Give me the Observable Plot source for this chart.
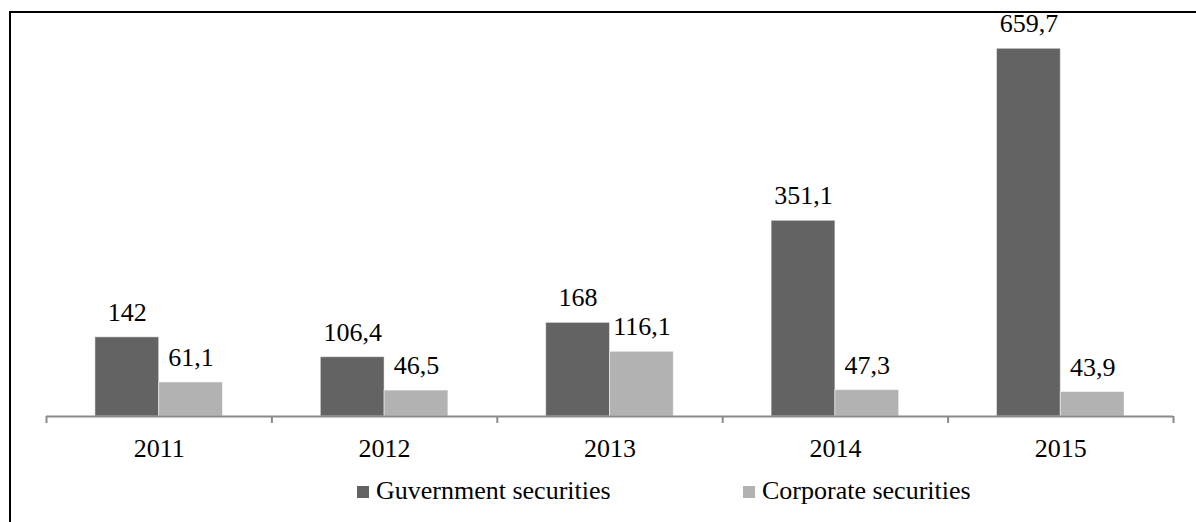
<!DOCTYPE html>
<html>
<head>
<meta charset="utf-8">
<script src="https://cdn.jsdelivr.net/npm/d3@7"></script>
<script src="https://cdn.jsdelivr.net/npm/@observablehq/plot@0.6"></script>
<style>
  html, body { margin: 0; padding: 0; background: #fff; }
  body { width: 1196px; height: 522px; position: relative; overflow: hidden;
         font-family: "Liberation Serif", "Times New Roman", Tinos, "DejaVu Serif", "Noto Serif", FreeSerif, serif; }
  #frame { position: absolute; left: 9px; top: 11px; width: 1400px; height: 800px;
           border-top: 2px solid #000; border-left: 2px solid #000; pointer-events: none; }
  #chart { position: absolute; left: 0; top: 0; }
  #chart svg text { font-family: "Liberation Serif", "Times New Roman", Tinos, "DejaVu Serif", "Noto Serif", FreeSerif, serif; }
  #legend { position: absolute; left: 357px; top: 474px; line-height: 34px; font-size: 26px;
            color: #000; white-space: nowrap; display: flex; }
  #legend .item { display: inline-block; }
  #legend .sw { display: inline-block; width: 12px; height: 12px; margin-right: 7px;
                vertical-align: baseline; position: relative; top: -1px; }
</style>
</head>
<body>
<div id="chart"></div>
<div id="legend"></div>
<div id="frame"></div>
<script>
// ---- data ----
const years = [2011, 2012, 2013, 2014, 2015];
const government = [142, 106.4, 168, 351.1, 659.7];
const corporate = [61.1, 46.5, 116.1, 47.3, 43.9];
const seriesNames = ["Guvernment securities", "Corporate securities"];
const seriesColors = ["#636363", "#b2b2b2"];
const yDomain = [0, 700];

// ---- table ----
const table = years.map((year, i) => ({year, gov: government[i], corp: corporate[i]}));
const boundaries = [years[0] - 0.5, ...years.map(y => y + 0.5)];
const fmt = v => String(v).replace(".", ",");
const W = 0.283; // width of each bar (in category units)
const axisGray = "#8a8a8a";
const font = "Liberation Serif, Times New Roman, Tinos, DejaVu Serif, Noto Serif, serif";

const plot = Plot.plot({
  width: 1196,
  height: 466,
  marginLeft: 46,
  marginRight: 23,
  marginTop: 25.8,
  marginBottom: 50,
  style: {fontFamily: font, fontSize: "26px", color: "#000", background: "transparent"},
  x: {type: "linear", domain: [years[0] - 0.5, years[years.length - 1] + 0.5]},
  y: {domain: yDomain, axis: null},
  marks: [
    Plot.rectY(table, {x1: d => d.year - W, x2: d => d.year, y1: 0, y2: "gov",
      fill: seriesColors[0], stroke: "#ffffff", strokeOpacity: 0.5, strokeWidth: 1}),
    Plot.rectY(table, {x1: d => d.year, x2: d => d.year + W, y1: 0, y2: "corp",
      fill: seriesColors[1], stroke: "#ffffff", strokeOpacity: 0.5, strokeWidth: 1}),
    Plot.ruleY([0], {stroke: axisGray, strokeWidth: 2}),
    Plot.axisX(boundaries, {tickSize: 7, tickFormat: () => "", stroke: axisGray, strokeWidth: 2, strokeOpacity: 1}),
    Plot.text(table, {x: d => d.year, y: 0, text: d => String(d.year), dy: 40,
      lineAnchor: "bottom", fontSize: 26, fill: "#000"}),
    Plot.text(table, {x: d => d.year - W / 2, y: "gov", text: d => fmt(d.gov), dy: -16.5,
      lineAnchor: "bottom", fontSize: 26, fill: "#000"}),
    Plot.text(table, {x: d => d.year + W / 2, y: "corp", text: d => fmt(d.corp), dy: -16.5,
      lineAnchor: "bottom", fontSize: 26, fill: "#000"})
  ]
});
document.getElementById("chart").appendChild(plot);

// ---- legend ----
const legend = document.getElementById("legend");
const itemWidths = [386, null];
seriesNames.forEach((name, i) => {
  const item = document.createElement("span");
  item.className = "item";
  if (itemWidths[i]) item.style.width = itemWidths[i] + "px";
  const sw = document.createElement("span");
  sw.className = "sw";
  sw.style.background = seriesColors[i];
  item.appendChild(sw);
  item.appendChild(document.createTextNode(name));
  legend.appendChild(item);
});
</script>
</body>
</html>
